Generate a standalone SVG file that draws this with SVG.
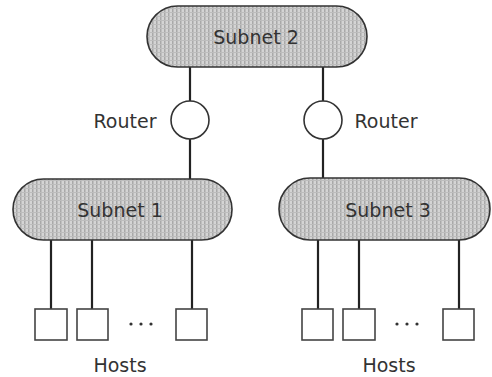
<svg xmlns="http://www.w3.org/2000/svg" width="492" height="377" viewBox="0 0 492 377">
<style>
.sub{fill:url(#hatch);stroke:#333;stroke-width:1.6}
.rt{fill:#fff;stroke:#333;stroke-width:1.6}
.host{fill:#fff;stroke:#444;stroke-width:1.6}
.ln{stroke:#222;stroke-width:2.2;fill:none}
text{font-family:"DejaVu Sans","Liberation Sans",sans-serif;font-size:19px;fill:#333}
.lbl{text-anchor:middle}
.dots{fill:#333}
</style>
<defs>
<pattern id="hatch" width="4" height="4" patternUnits="userSpaceOnUse">
<rect width="4" height="4" fill="#d4d4d4"/>
<rect x="0" y="0" width="1.5" height="4" fill="#a9a9a9"/>
<rect x="0" y="0" width="4" height="1" fill="#bdbdbd"/>
</pattern>
</defs>
<g id="connectors">
<line class="ln" x1="190" y1="67" x2="190" y2="101"/>
<line class="ln" x1="190" y1="139" x2="190" y2="179"/>
<line class="ln" x1="323" y1="67" x2="323" y2="101"/>
<line class="ln" x1="323" y1="139" x2="323" y2="178"/>
<line class="ln" x1="51" y1="240" x2="51" y2="309"/>
<line class="ln" x1="92" y1="240" x2="92" y2="309"/>
<line class="ln" x1="192" y1="240" x2="192" y2="309"/>
<line class="ln" x1="318" y1="240" x2="318" y2="309"/>
<line class="ln" x1="359" y1="240" x2="359" y2="309"/>
<line class="ln" x1="459" y1="240" x2="459" y2="309"/>
</g>
<g id="subnet2">
<rect class="sub" x="147" y="6" width="220" height="61" rx="30.5"/>
<text class="lbl" x="256" y="44">Subnet 2</text>
</g>
<g id="subnet1">
<rect class="sub" x="13" y="179" width="219" height="61" rx="30.5"/>
<text class="lbl" x="120" y="217">Subnet 1</text>
</g>
<g id="subnet3">
<rect class="sub" x="279" y="178" width="211" height="62" rx="31"/>
<text class="lbl" x="388" y="217">Subnet 3</text>
</g>
<g id="router1">
<circle class="rt" cx="190" cy="120" r="19"/>
<text class="lbl" x="125" y="128">Router</text>
</g>
<g id="router2">
<circle class="rt" cx="323" cy="120" r="19"/>
<text class="lbl" x="386" y="128">Router</text>
</g>
<g id="hosts1">
<rect class="host" x="35" y="309" width="32" height="31"/>
<rect class="host" x="77" y="309" width="31" height="31"/>
<rect class="host" x="176" y="309" width="31" height="31"/>
<circle class="dots" cx="131" cy="324" r="1.6"/>
<circle class="dots" cx="141" cy="324" r="1.6"/>
<circle class="dots" cx="151" cy="324" r="1.6"/>
<text class="lbl" x="120" y="372">Hosts</text>
</g>
<g id="hosts3">
<rect class="host" x="302" y="309" width="31" height="31"/>
<rect class="host" x="343" y="309" width="32" height="31"/>
<rect class="host" x="443" y="309" width="31" height="31"/>
<circle class="dots" cx="397" cy="324" r="1.6"/>
<circle class="dots" cx="407" cy="324" r="1.6"/>
<circle class="dots" cx="417" cy="324" r="1.6"/>
<text class="lbl" x="389" y="372">Hosts</text>
</g>
</svg>
